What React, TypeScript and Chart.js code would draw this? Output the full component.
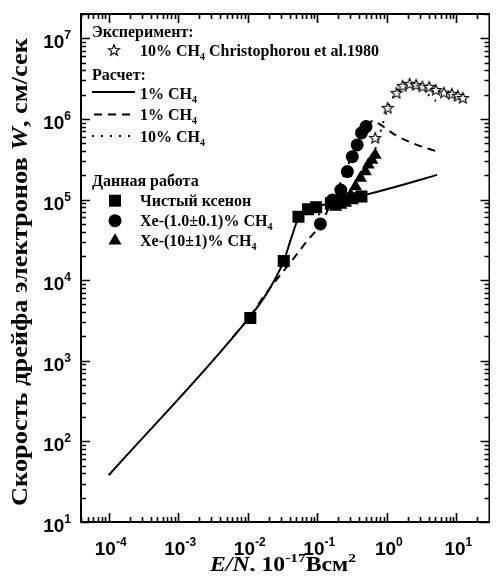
import React, { useEffect, useRef } from 'react';
import { Chart, registerables } from 'chart.js';

Chart.register(...registerables);

// ---- Data (E/N in 1e-17 V cm^2, W in cm/s) ----
const solidX = [1e-4, 0.0107, 0.0189, 0.033, 0.0428, 0.0537, 0.0697, 0.0965, 0.185, 0.431, 1.31, 5.3];
const solidY = [38, 3500, 6900, 17300, 34400, 59200, 72100, 80900, 93300, 111000, 143000, 202000];

const dashX = [0.00605, 0.0107, 0.0172, 0.028, 0.0428, 0.0697, 0.11, 0.147, 0.185, 0.225, 0.273, 0.333, 0.404, 0.508, 0.638, 0.776, 1.35, 2.13, 3.25, 4.97];
const dashY = [1950, 3500, 6370, 10960, 17300, 29800, 48400, 78700, 121000, 175000, 261000, 390000, 581000, 819000, 944000, 866000, 626000, 519000, 450000, 401000];

const dotX = [0.103, 0.185, 0.302, 0.418, 0.524, 0.638, 0.751, 0.883, 1.04, 1.26, 1.59, 2.06, 2.67, 3.47, 4.35, 5.1];
const dotY = [64400, 88100, 121000, 175000, 247000, 357000, 548000, 891000, 1.37e6, 1.93e6, 2.43e6, 2.72e6, 2.64e6, 2.29e6, 1.82e6, 1.67e6];

const xenonX = [0.0109, 0.033, 0.0537, 0.0736, 0.0965, 0.157, 0.185, 0.24, 0.319, 0.432];
const xenonY = [3400, 17300, 61000, 75900, 80000, 90000, 94200, 98800, 104000, 109000];

const ch4_1X = [0.111, 0.166, 0.218, 0.271, 0.319, 0.375, 0.432, 0.502];
const ch4_1Y = [49800, 98900, 131000, 222000, 340000, 476000, 670000, 802000];

const ch4_10X = [0.185, 0.218, 0.256, 0.302, 0.355, 0.418, 0.492, 0.542, 0.611, 0.681];
const ch4_10Y = [81000, 85700, 90800, 114000, 145000, 185000, 222000, 269000, 310000, 357000];

const starX = [0.681, 1.03, 1.38, 1.69, 2.13, 2.65, 3.25, 4.08, 5.08, 6.66, 8.63, 10.5, 12.4];
const starY = [581000, 1.37e6, 2.1e6, 2.57e6, 2.72e6, 2.64e6, 2.52e6, 2.49e6, 2.29e6, 2.12e6, 2.04e6, 1.93e6, 1.82e6];

const X_EXPONENTS = [-4, -3, -2, -1, 0, 1];
const Y_EXPONENTS = [1, 2, 3, 4, 5, 6, 7];
const X_MIN = 4e-5;
const X_MAX = 30;
const Y_MIN = 10;
const Y_MAX = 2e7;

const Y_TITLE_A = 'Скорость дрейфа электронов ';
const Y_TITLE_W = 'W';
const Y_TITLE_B = ', см/сек';

const pts = (xs: number[], ys: number[]) => xs.map((x, i) => ({ x, y: ys[i] }));

type Seg = { t: string; f: string; dy?: number };

function richWidth(ctx: CanvasRenderingContext2D, segs: Seg[]) {
  let w = 0;
  for (const s of segs) {
    ctx.font = s.f;
    w += ctx.measureText(s.t).width;
  }
  return w;
}

function drawRich(ctx: CanvasRenderingContext2D, segs: Seg[], x: number, y: number) {
  let cx = x;
  for (const s of segs) {
    ctx.font = s.f;
    ctx.fillText(s.t, cx, y + (s.dy || 0));
    cx += ctx.measureText(s.t).width;
  }
}

// draw rich text stretched horizontally to a target width, centered at cx
function drawRichFit(ctx: CanvasRenderingContext2D, segs: Seg[], cx: number, y: number, target: number) {
  const w = richWidth(ctx, segs);
  const k = target / w;
  ctx.save();
  ctx.translate(cx, y);
  ctx.scale(k, 1);
  drawRich(ctx, segs, -w / 2, 0);
  ctx.restore();
}

function starPath(ctx: CanvasRenderingContext2D, cx: number, cy: number, R: number, r: number) {
  ctx.beginPath();
  for (let i = 0; i < 10; i++) {
    const rad = i % 2 === 0 ? R : r;
    const a = -Math.PI / 2 + (i * Math.PI) / 5;
    const px = cx + rad * Math.cos(a);
    const py = cy + rad * Math.sin(a);
    if (i === 0) ctx.moveTo(px, py);
    else ctx.lineTo(px, py);
  }
  ctx.closePath();
}

function makeStar(): HTMLCanvasElement {
  const c = document.createElement('canvas');
  c.width = 14;
  c.height = 14;
  const g = c.getContext('2d')!;
  starPath(g, 7, 7.4, 5.8, 2.5);
  g.fillStyle = '#fff';
  g.fill();
  g.lineWidth = 1.1;
  g.strokeStyle = '#000';
  g.stroke();
  return c;
}

const SANS_B = 'bold 19px "Liberation Sans", Arial, sans-serif';
const SANS_SUP = 'bold 12px "Liberation Sans", Arial, sans-serif';
const SERIF = (px: number, italic = false) =>
  `${italic ? 'italic ' : ''}bold ${px}px "Liberation Serif", "Times New Roman", serif`;

const framePlugin = {
  id: 'originFrame',
  afterDraw(chart: any) {
    const ctx: CanvasRenderingContext2D = chart.ctx;
    const { left, right, top, bottom } = chart.chartArea;
    const xs = chart.scales.x;
    const ys = chart.scales.y;
    ctx.save();
    ctx.strokeStyle = '#000';
    ctx.fillStyle = '#000';
    ctx.lineWidth = 2;
    ctx.strokeRect(left, top, right - left, bottom - top);

    // ticks (inward, all four sides)
    ctx.lineWidth = 1.6;
    const majorL = 9;
    const minorL = 5;
    for (let d = -5; d <= 1; d++) {
      for (let m = 1; m <= 9; m++) {
        const v = m * Math.pow(10, d);
        if (v < X_MIN * 0.999 || v > X_MAX * 1.001) continue;
        const px = Math.round(xs.getPixelForValue(v)) + 0.5;
        const L = m === 1 ? majorL : minorL;
        ctx.beginPath();
        ctx.moveTo(px, bottom);
        ctx.lineTo(px, bottom - L);
        ctx.moveTo(px, top);
        ctx.lineTo(px, top + L);
        ctx.stroke();
      }
    }
    for (let d = 1; d <= 7; d++) {
      for (let m = 1; m <= 9; m++) {
        const v = m * Math.pow(10, d);
        if (v < Y_MIN * 0.999 || v > Y_MAX * 1.001) continue;
        const py = Math.round(ys.getPixelForValue(v)) + 0.5;
        const L = m === 1 ? majorL : minorL;
        ctx.beginPath();
        ctx.moveTo(left, py);
        ctx.lineTo(left + L, py);
        ctx.moveTo(right, py);
        ctx.lineTo(right - L, py);
        ctx.stroke();
      }
    }

    // tick labels
    ctx.textAlign = 'left';
    ctx.textBaseline = 'alphabetic';
    for (const e of X_EXPONENTS) {
      const px = xs.getPixelForValue(Math.pow(10, e));
      const segs: Seg[] = [
        { t: '10', f: SANS_B },
        { t: String(e), f: SANS_SUP, dy: -9 },
      ];
      const w = richWidth(ctx, segs);
      drawRich(ctx, segs, px - w / 2 + 2, bottom + 33);
    }
    for (const e of Y_EXPONENTS) {
      const py = ys.getPixelForValue(Math.pow(10, e));
      const segs: Seg[] = [
        { t: '10', f: SANS_B },
        { t: String(e), f: SANS_SUP, dy: -9 },
      ];
      const w = richWidth(ctx, segs);
      drawRich(ctx, segs, left - 10 - w, py + 10);
    }

    // y title (rotated)
    ctx.save();
    const ySegs: Seg[] = [
      { t: Y_TITLE_A, f: SERIF(24) },
      { t: Y_TITLE_W, f: SERIF(24, true) },
      { t: Y_TITLE_B, f: SERIF(24) },
    ];
    ctx.translate(27, 272);
    ctx.rotate(-Math.PI / 2);
    drawRichFit(ctx, ySegs, 0, 0, 468);
    ctx.restore();

    // x title
    const xSegs: Seg[] = [
      { t: 'E/N', f: SERIF(20, true) },
      { t: ', 10', f: SERIF(20) },
      { t: '-17', f: SERIF(13), dy: -9 },
      { t: 'Всм', f: SERIF(20) },
      { t: '2', f: SERIF(13), dy: -9 },
    ];
    drawRichFit(ctx, xSegs, 283, 571, 146);

    // legend texts
    const LF = SERIF(16);
    const SUB = SERIF(10);
    const tx = 140;
    drawRich(ctx, [{ t: 'Эксперимент:', f: LF }], 92, 37);
    drawRich(ctx, [{ t: '10% CH', f: LF }, { t: '4', f: SUB, dy: 4 }, { t: ' Christophorou et al.1980', f: LF }], tx, 56);
    drawRich(ctx, [{ t: 'Расчет:', f: LF }], 92, 79.5);
    drawRich(ctx, [{ t: '1% CH', f: LF }, { t: '4', f: SUB, dy: 4 }], tx, 98.5);
    drawRich(ctx, [{ t: '1% CH', f: LF }, { t: '4', f: SUB, dy: 4 }], tx, 120);
    drawRich(ctx, [{ t: '10% CH', f: LF }, { t: '4', f: SUB, dy: 4 }], tx, 141.5);
    drawRich(ctx, [{ t: 'Данная работа', f: LF }], 92, 186);
    drawRich(ctx, [{ t: 'Чистый ксенон', f: LF }], tx, 206);
    drawRich(ctx, [{ t: 'Xe-(1.0±0.1)% CH', f: LF }, { t: '4', f: SUB, dy: 4 }], tx, 226);
    drawRich(ctx, [{ t: 'Xe-(10±1)% CH', f: LF }, { t: '4', f: SUB, dy: 4 }], tx, 246);

    // legend samples
    ctx.lineWidth = 2;
    ctx.beginPath();
    ctx.moveTo(92, 92);
    ctx.lineTo(135, 92);
    ctx.stroke();
    ctx.setLineDash([8, 6]);
    ctx.beginPath();
    ctx.moveTo(94, 114.5);
    ctx.lineTo(135, 114.5);
    ctx.stroke();
    ctx.setLineDash([2, 7]);
    ctx.beginPath();
    ctx.moveTo(92, 136);
    ctx.lineTo(135, 136);
    ctx.stroke();
    ctx.setLineDash([]);

    starPath(ctx, 114, 50.5, 5.8, 2.5);
    ctx.fillStyle = '#fff';
    ctx.fill();
    ctx.lineWidth = 1.1;
    ctx.stroke();
    ctx.fillStyle = '#000';
    ctx.fillRect(115 - 6, 200.7 - 6, 12, 12);
    ctx.beginPath();
    ctx.arc(115, 220.7, 6.5, 0, Math.PI * 2);
    ctx.fill();
    ctx.beginPath();
    ctx.moveTo(115, 240.7 - 7.5);
    ctx.lineTo(115 + 6.5, 240.7 + 3.75);
    ctx.lineTo(115 - 6.5, 240.7 + 3.75);
    ctx.closePath();
    ctx.fill();

    ctx.restore();
  },
};

export default function App() {
  const ref = useRef<HTMLCanvasElement | null>(null);
  useEffect(() => {
    if (!ref.current) return;
    const star = makeStar();
    const lineDs = (data: any, dash: number[], order: number) => ({
      type: 'line' as const,
      data,
      showLine: true,
      borderColor: '#000',
      borderWidth: 2,
      borderDash: dash,
      pointRadius: 0,
      fill: false,
      cubicInterpolationMode: 'monotone' as const,
      order,
    });
    const markDs = (data: any, style: any, radius: number, order: number) => ({
      type: 'scatter' as const,
      data,
      showLine: false,
      pointStyle: style,
      pointRadius: radius,
      pointBackgroundColor: '#000',
      pointBorderColor: '#000',
      pointBorderWidth: 0,
      order,
    });
    const chart = new Chart(ref.current, {
      type: 'scatter',
      data: {
        datasets: [
          lineDs(pts(solidX, solidY), [], 5),
          lineDs(pts(dashX, dashY), [8, 6], 5),
          lineDs(pts(dotX, dotY), [2, 7], 5),
          markDs(pts(xenonX, xenonY), 'rect', 8.5, 3),
          markDs(pts(ch4_1X, ch4_1Y), 'circle', 6.5, 2),
          markDs(pts(ch4_10X, ch4_10Y), 'triangle', 7.5, 2),
          markDs(pts(starX, starY), star, 7, 1),
        ] as any,
      },
      options: {
        responsive: false,
        maintainAspectRatio: false,
        animation: false,
        layout: { padding: { left: 81, right: 1, top: 14, bottom: 57 } },
        scales: {
          x: { type: 'logarithmic', min: X_MIN, max: X_MAX, display: false },
          y: { type: 'logarithmic', min: Y_MIN, max: Y_MAX, display: false },
        },
        plugins: { legend: { display: false }, tooltip: { enabled: false } },
        events: [],
      },
      plugins: [framePlugin],
    });
    return () => chart.destroy();
  }, []);
  return (
    <div style={{ width: 498, height: 579, margin: -8, background: '#fff' }}>
      <canvas ref={ref} width={498} height={579} style={{ display: 'block' }} />
    </div>
  );
}
